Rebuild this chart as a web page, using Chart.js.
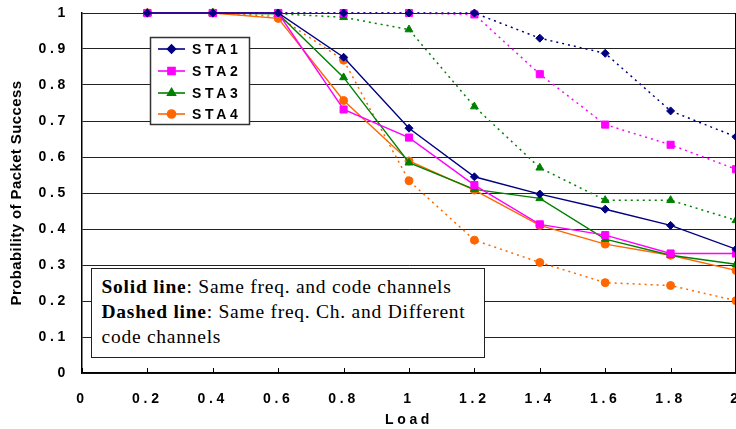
<!DOCTYPE html>
<html>
<head>
<meta charset="utf-8">
<script src="https://cdn.jsdelivr.net/npm/chart.js@4/dist/chart.umd.min.js"></script>
<style>
  html, body { margin: 0; padding: 0; background: #fff; overflow: hidden; }
  #wrap { position: relative; width: 736px; height: 429px; }
  #note {
    position: absolute; left: 91px; top: 268px; width: 394px; height: 90px;
    box-sizing: border-box; border: 1.5px solid #222; background: #fff;
    padding: 4.5px 0 0 9.5px;
    font-family: "Liberation Serif", "Times New Roman", serif;
    font-size: 19.5px; line-height: 25px; letter-spacing: 0.75px;
    color: #000; white-space: nowrap;
  }
</style>
</head>
<body>
<div id="wrap">
  <canvas id="chart"></canvas>
  <div id="note">
    <b>Solid line</b>: Same freq. and code channels<br>
    <b>Dashed line</b>: Same freq. Ch. and Different<br>
    code channels
  </div>
</div>
<script>
// Offered load (x) values
const loads = [0.2, 0.4, 0.6, 0.8, 1.0, 1.2, 1.4, 1.6, 1.8, 2.0];

// Same freq. and code channels (solid lines)
const sta1Solid = [1, 1, 1, 0.877, 0.680, 0.545, 0.497, 0.455, 0.410, 0.344];
const sta2Solid = [1, 1, 1, 0.732, 0.654, 0.522, 0.413, 0.383, 0.332, 0.332];
const sta3Solid = [1, 1, 0.998, 0.821, 0.584, 0.510, 0.485, 0.372, 0.327, 0.302];
const sta4Solid = [1, 1, 0.985, 0.757, 0.589, 0.508, 0.410, 0.358, 0.327, 0.285];

// Same freq. channel, different code channels (dashed lines)
const sta1Dashed = [1, 1, 1, 1, 1, 1, 0.930, 0.888, 0.728, 0.656];
const sta2Dashed = [1, 1, 1, 1, 1, 0.996, 0.830, 0.690, 0.634, 0.566];
const sta3Dashed = [1, 1, 0.998, 0.988, 0.954, 0.740, 0.570, 0.480, 0.480, 0.424];
const sta4Dashed = [1, 1, 0.990, 0.869, 0.534, 0.369, 0.307, 0.251, 0.243, 0.201];

const stationNames = ['STA1', 'STA2', 'STA3', 'STA4'];
const colors = ['#000080', '#FF00FF', '#008000', '#FF6600'];
const markers = ['rectRot', 'rect', 'triangle', 'circle'];
const markerRadius = [4, 5, 4.5, 4];

const SPACING = '3.7px';
const FONT = '"Liberation Sans", Arial, sans-serif';

const toPoints = arr => arr.map((v, i) => ({ x: loads[i], y: v }));

function series(name, data, idx, dashed) {
  return {
    label: name,
    data: toPoints(data),
    borderColor: colors[idx],
    backgroundColor: colors[idx],
    pointBackgroundColor: colors[idx],
    pointBorderColor: colors[idx],
    pointStyle: markers[idx],
    pointRadius: markerRadius[idx],
    pointBorderWidth: 1,
    borderWidth: dashed ? 1.5 : 1.4,
    borderDash: dashed ? [2, 4] : [],
    tension: 0,
    fill: false,
    clip: false
  };
}

const datasets = [
  series(stationNames[0], sta1Solid, 0, false),
  series(stationNames[1], sta2Solid, 1, false),
  series(stationNames[2], sta3Solid, 2, false),
  series(stationNames[3], sta4Solid, 3, false),
  series(stationNames[0], sta1Dashed, 0, true),
  series(stationNames[1], sta2Dashed, 1, true),
  series(stationNames[2], sta3Dashed, 2, true),
  series(stationNames[3], sta4Dashed, 3, true)
];

// Letter spacing for tick labels and axis titles
const spacingPlugin = {
  id: 'spacing',
  beforeLayout(chart) { chart.ctx.letterSpacing = SPACING; },
  beforeDraw(chart) {
    chart.ctx.letterSpacing = SPACING;
    Object.values(chart.scales).forEach(scale => {
      if (scale._wrappedTitle) return;
      const orig = scale.drawTitle;
      const spacing = scale.axis === 'x' ? SPACING : '0.4px';
      scale.drawTitle = function (...args) {
        const c = this.ctx;
        c.letterSpacing = spacing;
        orig.apply(this, args);
        c.letterSpacing = SPACING;
      };
      scale._wrappedTitle = true;
    });
  }
};

// Frame, inward x ticks and the station legend
const framePlugin = {
  id: 'frame',
  afterDraw(chart) {
    const { ctx, chartArea: a, scales: { x } } = chart;
    ctx.save();
    ctx.letterSpacing = '0px';
    ctx.strokeStyle = '#000';
    ctx.lineWidth = 1;
    // right edge of plot area
    ctx.beginPath();
    ctx.moveTo(Math.round(a.right) - 0.5, a.top);
    ctx.lineTo(Math.round(a.right) - 0.5, a.bottom);
    ctx.stroke();
    // inward tick marks on the load axis
    x.ticks.forEach(t => {
      const px = Math.round(x.getPixelForValue(t.value)) + 0.5;
      ctx.beginPath();
      ctx.moveTo(px, a.bottom);
      ctx.lineTo(px, a.bottom - 5);
      ctx.stroke();
    });

    // legend box
    const lx = 150, ly = 37, lw = 99, lh = 87;
    ctx.fillStyle = '#fff';
    ctx.fillRect(lx, ly, lw, lh);
    ctx.strokeStyle = '#333';
    ctx.lineWidth = 1.5;
    ctx.strokeRect(lx + 0.5, ly + 0.5, lw, lh);
    const rows = [49, 71, 93, 114];
    ctx.font = 'bold 14px ' + FONT;
    ctx.textBaseline = 'middle';
    ctx.textAlign = 'left';
    ctx.letterSpacing = SPACING;
    for (let i = 0; i < 4; i++) {
      const ds = chart.data.datasets[i];
      const y = rows[i];
      ctx.strokeStyle = ds.borderColor;
      ctx.lineWidth = 1.6;
      ctx.setLineDash([]);
      ctx.beginPath();
      ctx.moveTo(158, y);
      ctx.lineTo(185, y);
      ctx.stroke();
      ctx.fillStyle = ds.backgroundColor;
      Chart.helpers.drawPoint(ctx, {
        pointStyle: ds.pointStyle, radius: ds.pointRadius, rotation: 0, borderWidth: 1
      }, 171.5, y);
      ctx.fillStyle = '#000';
      ctx.fillText(ds.label, 192, y + 1);
    }
    ctx.restore();
  }
};

new Chart(document.getElementById('chart'), {
  type: 'line',
  data: { datasets },
  plugins: [spacingPlugin, framePlugin],
  options: {
    responsive: true,
    maintainAspectRatio: false,
    animation: false,
    devicePixelRatio: 1,
    layout: { autoPadding: false, padding: { top: 13, left: 0, right: 0, bottom: 0 } },
    plugins: { legend: { display: false }, tooltip: { enabled: false } },
    scales: {
      x: {
        type: 'linear',
        min: 0, max: 2,
        afterFit(scale) {
          scale.height = 56;
          scale.paddingLeft = 0;
          scale.paddingRight = 0;
        },
        ticks: {
          stepSize: 0.2,
          color: '#000',
          padding: 18,
          maxRotation: 0,
          autoSkip: false,
          font: { family: FONT, size: 14, weight: 'bold' },
          callback: v => String(Math.round(v * 10) / 10)
        },
        grid: { display: false, drawTicks: false },
        border: { display: true, color: '#000', width: 1.5 },
        title: {
          display: true, text: 'Load', color: '#000',
          font: { family: FONT, size: 14, weight: 'bold' },
          padding: { top: 4, bottom: 0 }
        }
      },
      y: {
        min: 0, max: 1,
        afterFit(scale) {
          scale.width = 82;
          scale.paddingTop = 0;
          scale.paddingBottom = 0;
        },
        ticks: {
          stepSize: 0.1,
          color: '#000',
          padding: 13,
          font: { family: FONT, size: 14, weight: 'bold' },
          callback: v => String(Math.round(v * 10) / 10)
        },
        grid: { color: '#222', lineWidth: 1, drawTicks: false },
        border: { display: true, color: '#000', width: 1.5 },
        title: {
          display: true, text: 'Probability of Packet Success', color: '#000',
          font: { family: FONT, size: 15, weight: 'bold' },
          padding: { top: 8, bottom: 0 }
        }
      }
    }
  }
});
</script>
</body>
</html>
